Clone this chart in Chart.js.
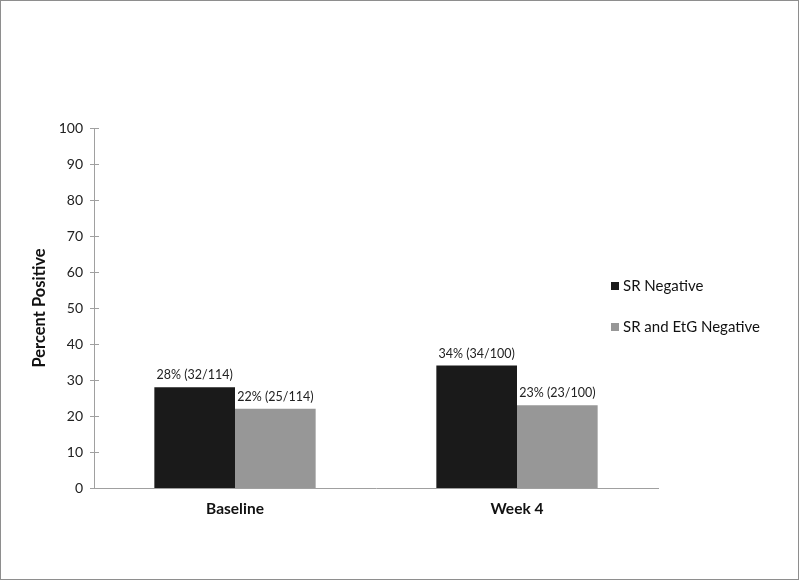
<!DOCTYPE html>
<html>
<head>
<meta charset="utf-8">
<script src="https://cdn.jsdelivr.net/npm/chart.js@4.4.1/dist/chart.umd.min.js"></script>
<style>
  html, body { margin: 0; padding: 0; background: #fff; }
  #wrap { position: relative; width: 800px; height: 581px; }
  #frame { position: absolute; left: 0; top: 0; width: 799px; height: 580px; box-sizing: border-box; border: 1px solid #8e8e8e; pointer-events: none; }
  canvas { display: block; }
</style>
</head>
<body>
<div id="wrap">
  <canvas id="c" width="800" height="581"></canvas>
  <div id="frame"></div>
</div>
<script>
const categories = ["Baseline", "Week 4"];
const seriesNames = ["SR Negative", "SR and EtG Negative"];
const srNegative = [28, 34];
const srEtgNegative = [22, 23];
const srNegativeLabels = ["28% (32/114)", "34% (34/100)"];
const srEtgNegativeLabels = ["22% (25/114)", "23% (23/100)"];
const yTicks = [0, 10, 20, 30, 40, 50, 60, 70, 80, 90, 100];

const FONT = "Lato, 'Liberation Sans', sans-serif";
const AXIS = "#a0a0a0";

const overlay = {
  id: "overlay",
  afterDraw(chart) {
    const ctx = chart.ctx;
    const y = chart.scales.y;
    const area = chart.chartArea;
    ctx.save();
    // tick marks crossing the y axis
    ctx.strokeStyle = AXIS;
    ctx.lineWidth = 1;
    yTicks.forEach(v => {
      const py = Math.round(y.getPixelForValue(v)) + 0.5;
      ctx.beginPath();
      ctx.moveTo(area.left - 4, py);
      ctx.lineTo(area.left + 5, py);
      ctx.stroke();
    });
    // data labels
    ctx.fillStyle = "#222";
    ctx.font = "12.5px " + FONT;
    ctx.textAlign = "center";
    ctx.textBaseline = "alphabetic";
    chart.data.datasets.forEach((ds, di) => {
      const meta = chart.getDatasetMeta(di);
      meta.data.forEach((bar, i) => {
        ctx.fillText(ds.valueLabels[i], bar.x, bar.y - 8);
      });
    });
    // legend
    ctx.font = "15px " + FONT;
    ctx.textAlign = "left";
    ctx.textBaseline = "middle";
    const legY = [286, 327];
    chart.data.datasets.forEach((ds, di) => {
      ctx.fillStyle = ds.backgroundColor;
      ctx.fillRect(611, legY[di] - 4, 8, 8);
      ctx.fillStyle = "#111";
      ctx.fillText(ds.label, 623, legY[di]);
    });
    ctx.restore();
  }
};

new Chart(document.getElementById("c"), {
  type: "bar",
  data: {
    labels: categories,
    datasets: [
      { label: seriesNames[0], data: srNegative, valueLabels: srNegativeLabels,
        backgroundColor: "#1a1a1a", categoryPercentage: 0.572, barPercentage: 1.0 },
      { label: seriesNames[1], data: srEtgNegative, valueLabels: srEtgNegativeLabels,
        backgroundColor: "#979797", categoryPercentage: 0.572, barPercentage: 1.0 }
    ]
  },
  options: {
    responsive: false,
    animation: false,
    layout: { padding: { left: 0, right: 142, top: 128, bottom: 0 } },
    plugins: { legend: { display: false }, tooltip: { enabled: false } },
    scales: {
      x: {
        grid: { display: false, drawTicks: false },
        border: { display: true, color: AXIS, width: 1 },
        ticks: { color: "#111", font: { family: FONT, size: 15.5, weight: "bold" }, padding: 12 },
        afterFit: s => { s.height = 93; }
      },
      y: {
        min: 0, max: 100,
        afterBuildTicks: s => { s.ticks = yTicks.map(v => ({ value: v })); },
        grid: { display: false, drawTicks: false },
        border: { display: true, color: AXIS, width: 1 },
        ticks: { color: "#222", font: { family: FONT, size: 14 }, padding: 11 },
        title: { display: true, text: "Percent Positive", color: "#111",
                 font: { family: FONT, size: 16.5, weight: "bold" }, padding: { top: 30, bottom: 0 } },
        afterFit: s => { s.width = 94; }
      }
    }
  },
  plugins: [overlay]
});
</script>
</body>
</html>
